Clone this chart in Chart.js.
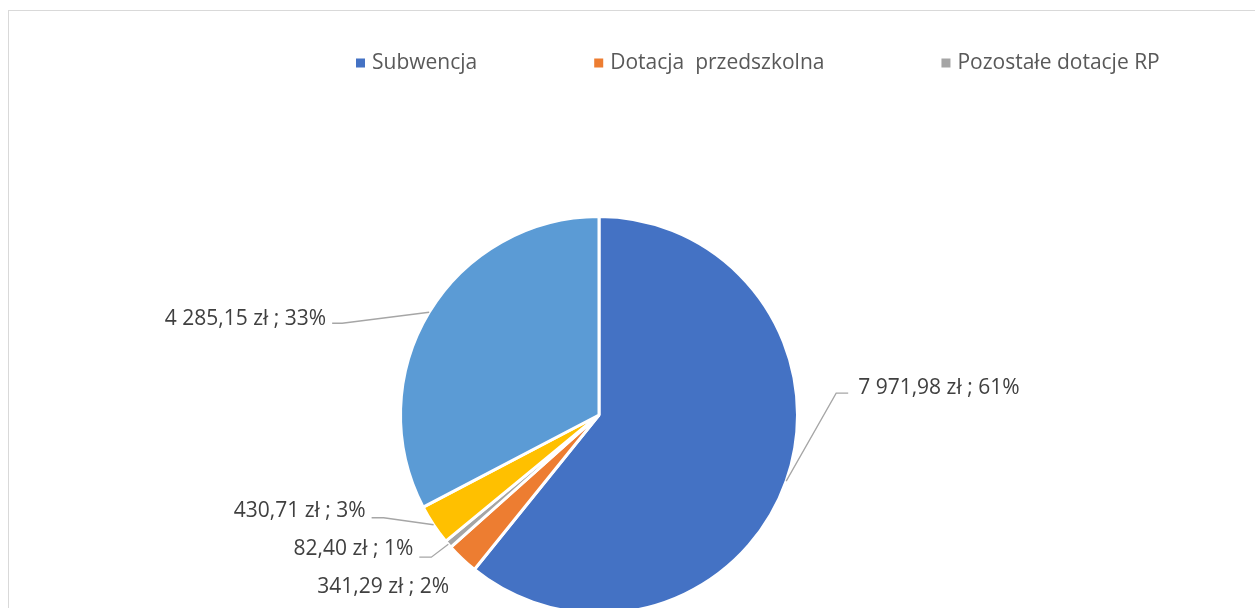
<!DOCTYPE html>
<html>
<head>
<meta charset="utf-8">
<script src="https://cdn.jsdelivr.net/npm/chart.js@4"></script>
<style>
  html, body { margin: 0; padding: 0; background: #fff; }
  #wrap { position: relative; width: 1255px; height: 608px; overflow: hidden; }
  #ramka { position: absolute; left: 8px; top: 10px; width: 1400px; height: 800px;
           border-left: 1px solid #d9d9d9; border-top: 1px solid #d9d9d9; }
  #wykres { position: absolute; left: 0; top: 0; }
</style>
</head>
<body>
<div id="wrap">
  <div id="ramka"></div>
  <canvas id="wykres" width="1255" height="630"></canvas>
</div>
<script>
const kategorie = ["Subwencja", "Dotacja  przedszkolna", "Pozostałe dotacje RP", "Dotacje celowe", "Dochody własne"];
const kwoty = [7971.98, 341.29, 82.40, 430.71, 4285.15];
const procenty = ["61%", "2%", "1%", "3%", "33%"];
const kolory = ["#4472C4", "#ED7D31", "#A5A5A5", "#FFC000", "#5B9BD5"];
const ileWLegendzie = 3;

// polozenie etykiet wzgledem punktu na obwodzie (kolanko, odcinek poziomy)
const etykietyUklad = [
  { dx: 50, dy: -88, h: 12, ty: -5 },
  { tx: -13, ty: 28 },
  { dx: -17, dy: 13, h: -12, ty: -8 },
  { dx: -50, dy: -7, h: -12, ty: -7 },
  { dx: -87, dy: 11, h: -10, ty: -4 }
];

const FONT = "21px 'Open Sans'";

function formatKwota(v) {
  const [calk, ulamek] = v.toFixed(2).split(".");
  return calk.replace(/\B(?=(\d{3})+(?!\d))/g, " ") + "," + ulamek + " zł ; ";
}

const rysujDodatki = {
  id: "rysujDodatki",
  afterDraw(chart) {
    const ctx = chart.ctx;
    ctx.save();
    ctx.font = FONT;
    ctx.textBaseline = "middle";

    // legenda
    let x = 356;
    const y = 63;
    for (let i = 0; i < ileWLegendzie; i++) {
      ctx.fillStyle = kolory[i];
      ctx.fillRect(x, y - 4.5, 9, 9);
      ctx.fillStyle = "#595959";
      ctx.textAlign = "left";
      ctx.fillText(kategorie[i], x + 16, y);
      x += 16 + ctx.measureText(kategorie[i]).width + 117;
    }

    // etykiety danych
    const luki = chart.getDatasetMeta(0).data;
    luki.forEach((luk, i) => {
      const p = luk.getProps(["x", "y", "startAngle", "endAngle", "outerRadius"], true);
      const kat = (p.startAngle + p.endAngle) / 2;
      const px = p.x + Math.cos(kat) * p.outerRadius;
      const py = p.y + Math.sin(kat) * p.outerRadius;
      const u = etykietyUklad[i];
      const tekst = formatKwota(kwoty[i]) + procenty[i];
      ctx.fillStyle = "#404040";
      if (u.dx === undefined) {
        ctx.textAlign = "right";
        ctx.fillText(tekst, px + u.tx, py + u.ty);
        return;
      }
      const kx = px + u.dx, ky = py + u.dy;
      const ex = kx + u.h;
      ctx.strokeStyle = "#A6A6A6";
      ctx.lineWidth = 1.3;
      ctx.beginPath();
      ctx.moveTo(px, py);
      ctx.lineTo(kx, ky);
      ctx.lineTo(ex, ky);
      ctx.stroke();
      ctx.fillStyle = "#404040";
      if (u.h > 0) {
        ctx.textAlign = "left";
        ctx.fillText(tekst, ex + 10, ky + u.ty);
      } else {
        ctx.textAlign = "right";
        ctx.fillText(tekst, ex - 6, ky + u.ty);
      }
    });
    ctx.restore();
  }
};

new Chart(document.getElementById("wykres"), {
  type: "pie",
  data: {
    labels: kategorie,
    datasets: [{
      data: kwoty,
      backgroundColor: kolory,
      borderColor: "#ffffff",
      borderWidth: 3
    }]
  },
  options: {
    responsive: false,
    animation: false,
    layout: { padding: { left: 399, right: 456, top: 215, bottom: 15 } },
    plugins: {
      legend: { display: false },
      tooltip: { enabled: false }
    }
  },
  plugins: [rysujDodatki]
});
</script>
</body>
</html>
